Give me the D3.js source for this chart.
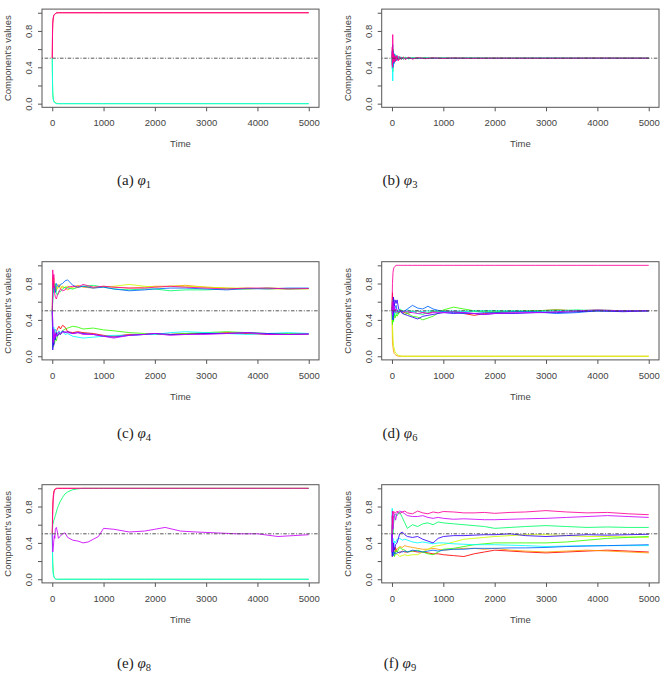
<!DOCTYPE html>
<html>
<head>
<meta charset="utf-8">
<script src="https://cdn.jsdelivr.net/npm/d3@7"></script>
<style>
  body { margin: 0; background: #fff; }
  svg { display: block; }
  .tick text, .lab { font-family: "Liberation Sans", Arial, sans-serif; font-size: 9.5px; fill: #444; }
  .cap { font-family: "Liberation Serif", "DejaVu Serif", serif; font-size: 15px; fill: #222; }
</style>
</head>
<body>
<script>
// R rainbow(10) palette
const rainbow = {
  red: "#FF0000", orange: "#FF9900", yellow: "#CCFF00", green: "#33FF00", green2: "#00FF66",
  cyan: "#00FFFF", blue1: "#0066FF", blue2: "#3300FF", purple: "#CC00FF", magenta: "#FF0099"
};

const xTicks = [0, 1000, 2000, 3000, 4000, 5000];
const yTicks = [0, 0.2, 0.4, 0.6, 0.8, 1.0];
const yTickLabels = ["0.0", "", "0.4", "", "0.8", ""];

// (a) phi_1
const tA = [0, 5, 10, 20, 30, 45, 60, 80, 120, 200, 1000, 5000];
const aRed = [0.5, 0.75, 0.88, 0.94, 0.97, 0.98, 0.99, 1, 1, 1, 1, 1];
const aMagenta = [0.5, 0.82, 0.9, 0.95, 0.97, 0.985, 0.99, 0.995, 1, 1, 1, 1];
const aGreen = [0.5, 0.25, 0.12, 0.05, 0.03, 0.02, 0.01, 0.005, 0, 0, 0, 0];
const aCyan = [0.5, 0.2, 0.1, 0.05, 0.02, 0.01, 0.005, 0, 0, 0, 0, 0];

// (b) phi_3
const tB = [1, 5, 10, 15, 20, 25, 30, 35, 40, 50, 60, 70, 80, 100, 120, 150, 180, 220, 260, 320, 400, 500, 650, 800, 1000, 1200, 1500, 2000, 3000, 4000, 5000];
const bRed = [0.5, 0.42, 0.56, 0.38, 0.58, 0.45, 0.53, 0.45, 0.54, 0.46, 0.52, 0.47, 0.53, 0.48, 0.52, 0.485, 0.51, 0.49, 0.508, 0.495, 0.505, 0.496, 0.503, 0.498, 0.502, 0.499, 0.501, 0.5, 0.5, 0.5, 0.5];
const bOrange = [0.5, 0.55, 0.45, 0.6, 0.42, 0.55, 0.44, 0.53, 0.46, 0.52, 0.47, 0.53, 0.48, 0.515, 0.485, 0.51, 0.49, 0.512, 0.495, 0.508, 0.496, 0.505, 0.497, 0.503, 0.498, 0.501, 0.5, 0.499, 0.5, 0.5, 0.5];
const bGreen = [0.5, 0.45, 0.58, 0.35, 0.6, 0.44, 0.55, 0.46, 0.53, 0.48, 0.54, 0.47, 0.52, 0.485, 0.515, 0.49, 0.51, 0.49, 0.506, 0.494, 0.505, 0.497, 0.503, 0.498, 0.502, 0.499, 0.501, 0.5, 0.5, 0.5, 0.5];
const bCyan = [0.5, 0.38, 0.6, 0.25, 0.55, 0.42, 0.57, 0.45, 0.55, 0.47, 0.54, 0.47, 0.53, 0.48, 0.52, 0.49, 0.515, 0.49, 0.51, 0.492, 0.507, 0.495, 0.505, 0.497, 0.503, 0.498, 0.502, 0.499, 0.501, 0.5, 0.5];
const bBlue = [0.5, 0.58, 0.42, 0.65, 0.4, 0.58, 0.45, 0.55, 0.44, 0.54, 0.47, 0.52, 0.47, 0.52, 0.48, 0.51, 0.488, 0.508, 0.49, 0.505, 0.495, 0.503, 0.496, 0.502, 0.498, 0.501, 0.499, 0.5, 0.5, 0.5, 0.5];
const bMagenta = [0.5, 0.62, 0.4, 0.76, 0.45, 0.56, 0.46, 0.54, 0.47, 0.53, 0.46, 0.52, 0.48, 0.53, 0.47, 0.52, 0.49, 0.51, 0.485, 0.51, 0.49, 0.505, 0.495, 0.503, 0.497, 0.502, 0.498, 0.5, 0.499, 0.501, 0.5];

// (c) phi_4
const tC = [0, 10, 20, 30, 45, 60, 80, 100, 130, 160, 200, 250, 300, 400, 500, 600, 800, 1000, 1200, 1500, 1800, 2000, 2300, 2600, 3000, 3400, 3800, 4200, 4600, 5000];
const cRed = [0.5, 0.2, 0.3, 0.25, 0.28, 0.22, 0.27, 0.3, 0.33, 0.3, 0.34, 0.32, 0.27, 0.26, 0.27, 0.26, 0.25, 0.23, 0.22, 0.24, 0.24, 0.25, 0.24, 0.25, 0.25, 0.26, 0.25, 0.24, 0.24, 0.245];
const cOrange = [0.5, 0.88, 0.8, 0.86, 0.74, 0.78, 0.72, 0.76, 0.79, 0.74, 0.77, 0.75, 0.73, 0.76, 0.78, 0.76, 0.75, 0.77, 0.76, 0.75, 0.76, 0.77, 0.77, 0.78, 0.76, 0.75, 0.74, 0.75, 0.745, 0.745];
const cYellow = [0.5, 0.7, 0.85, 0.78, 0.8, 0.72, 0.77, 0.74, 0.76, 0.78, 0.75, 0.76, 0.77, 0.74, 0.76, 0.77, 0.76, 0.76, 0.77, 0.79, 0.77, 0.76, 0.77, 0.77, 0.76, 0.75, 0.75, 0.74, 0.74, 0.74];
const cGreen = [0.5, 0.15, 0.1, 0.18, 0.14, 0.2, 0.17, 0.22, 0.25, 0.24, 0.28, 0.3, 0.31, 0.33, 0.32, 0.3, 0.31, 0.29, 0.28, 0.26, 0.25, 0.24, 0.24, 0.25, 0.26, 0.27, 0.26, 0.25, 0.25, 0.25];
const cGreen2 = [0.5, 0.6, 0.78, 0.7, 0.76, 0.8, 0.7, 0.67, 0.72, 0.71, 0.74, 0.76, 0.75, 0.74, 0.76, 0.77, 0.78, 0.76, 0.74, 0.73, 0.74, 0.74, 0.72, 0.73, 0.73, 0.74, 0.74, 0.75, 0.74, 0.745];
const cCyan = [0.5, 0.35, 0.2, 0.32, 0.24, 0.3, 0.27, 0.25, 0.28, 0.26, 0.27, 0.24, 0.25, 0.22, 0.21, 0.2, 0.21, 0.22, 0.23, 0.23, 0.24, 0.24, 0.26, 0.27, 0.26, 0.25, 0.24, 0.25, 0.26, 0.25];
const cBlue1 = [0.5, 0.65, 0.8, 0.75, 0.77, 0.7, 0.8, 0.78, 0.76, 0.79, 0.8, 0.83, 0.84, 0.78, 0.76, 0.77, 0.75, 0.76, 0.74, 0.72, 0.73, 0.74, 0.75, 0.75, 0.74, 0.73, 0.745, 0.74, 0.75, 0.75];
const cBlue2 = [0.5, 0.07, 0.2, 0.12, 0.24, 0.18, 0.26, 0.22, 0.25, 0.24, 0.28, 0.26, 0.27, 0.25, 0.26, 0.25, 0.24, 0.22, 0.21, 0.23, 0.24, 0.25, 0.24, 0.24, 0.25, 0.25, 0.26, 0.25, 0.24, 0.245];
const cPurple = [0.5, 0.4, 0.15, 0.3, 0.2, 0.25, 0.22, 0.24, 0.27, 0.25, 0.26, 0.27, 0.26, 0.25, 0.26, 0.24, 0.24, 0.22, 0.2, 0.23, 0.24, 0.25, 0.23, 0.24, 0.24, 0.25, 0.26, 0.24, 0.24, 0.245];
const cMagenta = [0.5, 0.95, 0.75, 0.9, 0.7, 0.65, 0.63, 0.67, 0.7, 0.74, 0.72, 0.73, 0.76, 0.77, 0.76, 0.79, 0.76, 0.77, 0.76, 0.75, 0.75, 0.76, 0.77, 0.76, 0.75, 0.74, 0.75, 0.75, 0.74, 0.745];

// (d) phi_6
const tD = [0, 10, 20, 30, 45, 60, 80, 100, 130, 160, 200, 250, 300, 400, 500, 600, 700, 800, 1000, 1200, 1400, 1600, 1800, 2000, 2400, 2800, 3200, 3600, 4000, 4500, 5000];
const dRed = [0.5, 0.7, 0.55, 0.6, 0.45, 0.52, 0.48, 0.5, 0.47, 0.5, 0.49, 0.48, 0.47, 0.49, 0.5, 0.48, 0.47, 0.49, 0.5, 0.49, 0.47, 0.45, 0.47, 0.48, 0.49, 0.5, 0.51, 0.5, 0.5, 0.5, 0.5];
const dOrange = [0.5, 0.15, 0.1, 0.06, 0.03, 0.02, 0.01, 0.005, 0, 0, 0, 0, 0, 0, 0, 0, 0, 0, 0, 0, 0, 0, 0, 0, 0, 0, 0, 0, 0, 0, 0];
const dYellow = [0.5, 0.35, 0.2, 0.12, 0.08, 0.05, 0.03, 0.02, 0.01, 0.005, 0, 0, 0, 0, 0, 0, 0, 0, 0, 0, 0, 0, 0, 0, 0, 0, 0, 0, 0, 0, 0];
const dGreen = [0.5, 0.35, 0.45, 0.38, 0.48, 0.42, 0.46, 0.44, 0.47, 0.49, 0.48, 0.46, 0.47, 0.44, 0.43, 0.4, 0.42, 0.44, 0.51, 0.54, 0.52, 0.5, 0.49, 0.49, 0.5, 0.5, 0.51, 0.5, 0.51, 0.5, 0.5];
const dGreen2 = [0.5, 0.62, 0.4, 0.55, 0.44, 0.5, 0.47, 0.46, 0.5, 0.52, 0.5, 0.49, 0.48, 0.5, 0.47, 0.46, 0.48, 0.5, 0.5, 0.49, 0.5, 0.49, 0.5, 0.5, 0.49, 0.5, 0.5, 0.51, 0.5, 0.5, 0.5];
const dCyan = [0.5, 0.4, 0.55, 0.45, 0.52, 0.47, 0.5, 0.49, 0.51, 0.5, 0.49, 0.5, 0.51, 0.49, 0.5, 0.49, 0.5, 0.5, 0.49, 0.5, 0.49, 0.5, 0.5, 0.5, 0.5, 0.49, 0.5, 0.5, 0.5, 0.5, 0.5];
const dBlue1 = [0.5, 0.55, 0.45, 0.52, 0.5, 0.53, 0.56, 0.5, 0.48, 0.5, 0.49, 0.5, 0.52, 0.56, 0.53, 0.52, 0.55, 0.52, 0.49, 0.48, 0.47, 0.47, 0.48, 0.48, 0.49, 0.49, 0.47, 0.48, 0.5, 0.5, 0.5];
const dBlue2 = [0.5, 0.6, 0.4, 0.65, 0.55, 0.62, 0.58, 0.62, 0.52, 0.5, 0.47, 0.46, 0.45, 0.43, 0.41, 0.44, 0.45, 0.46, 0.48, 0.47, 0.48, 0.47, 0.46, 0.47, 0.47, 0.48, 0.48, 0.49, 0.5, 0.49, 0.5];
const dPurple = [0.5, 0.45, 0.6, 0.5, 0.55, 0.48, 0.52, 0.5, 0.49, 0.5, 0.48, 0.5, 0.49, 0.48, 0.47, 0.48, 0.47, 0.48, 0.48, 0.49, 0.48, 0.47, 0.46, 0.47, 0.48, 0.48, 0.49, 0.5, 0.51, 0.5, 0.5];
const dMagenta = [0.5, 0.8, 0.92, 0.96, 0.98, 0.99, 1, 1, 1, 1, 1, 1, 1, 1, 1, 1, 1, 1, 1, 1, 1, 1, 1, 1, 1, 1, 1, 1, 1, 1, 1];

// (e) phi_8
const tE = [0, 5, 10, 20, 30, 40, 50, 60, 80, 100, 120, 150, 200, 250, 300, 400, 500, 600, 700, 800, 900, 1000, 1200, 1500, 1800, 2000, 2200, 2500, 2800, 3200, 3600, 4000, 4400, 4700, 5000];
const eRed = [0.5, 0.7, 0.82, 0.92, 0.96, 0.98, 0.99, 0.995, 1, 1, 1, 1, 1, 1, 1, 1, 1, 1, 1, 1, 1, 1, 1, 1, 1, 1, 1, 1, 1, 1, 1, 1, 1, 1, 1];
const eGreen = [0.5, 0.3, 0.18, 0.08, 0.04, 0.02, 0.01, 0.005, 0, 0, 0, 0, 0, 0, 0, 0, 0, 0, 0, 0, 0, 0, 0, 0, 0, 0, 0, 0, 0, 0, 0, 0, 0, 0, 0];
const eGreen2 = [0.5, 0.55, 0.6, 0.62, 0.65, 0.66, 0.68, 0.7, 0.74, 0.78, 0.81, 0.85, 0.9, 0.94, 0.96, 0.985, 0.995, 1, 1, 1, 1, 1, 1, 1, 1, 1, 1, 1, 1, 1, 1, 1, 1, 1, 1];
const eCyan = [0.5, 0.25, 0.12, 0.05, 0.03, 0.02, 0.01, 0.005, 0, 0, 0, 0, 0, 0, 0, 0, 0, 0, 0, 0, 0, 0, 0, 0, 0, 0, 0, 0, 0, 0, 0, 0, 0, 0, 0];
const ePurple = [0.5, 0.4, 0.3, 0.35, 0.42, 0.48, 0.45, 0.55, 0.57, 0.52, 0.45, 0.47, 0.5, 0.51, 0.46, 0.43, 0.42, 0.4, 0.41, 0.44, 0.47, 0.56, 0.55, 0.52, 0.53, 0.55, 0.57, 0.53, 0.52, 0.51, 0.5, 0.5, 0.47, 0.48, 0.49];
const eMagenta = [0.5, 0.6, 0.75, 0.88, 0.94, 0.97, 0.98, 0.99, 0.995, 1, 1, 1, 1, 1, 1, 1, 1, 1, 1, 1, 1, 1, 1, 1, 1, 1, 1, 1, 1, 1, 1, 1, 1, 1, 1];

// (f) phi_9
const tF = [0, 5, 10, 20, 30, 50, 70, 100, 150, 200, 250, 300, 400, 500, 600, 700, 800, 900, 1000, 1200, 1400, 1600, 1800, 2000, 2300, 2600, 3000, 3400, 3800, 4200, 4600, 5000];
const fRed = [0.5, 0.6, 0.25, 0.4, 0.3, 0.28, 0.35, 0.3, 0.29, 0.31, 0.3, 0.3, 0.31, 0.3, 0.3, 0.29, 0.28, 0.28, 0.27, 0.26, 0.25, 0.28, 0.3, 0.32, 0.31, 0.3, 0.29, 0.3, 0.31, 0.32, 0.31, 0.3];
const fOrange = [0.5, 0.35, 0.28, 0.3, 0.32, 0.35, 0.3, 0.33, 0.36, 0.35, 0.37, 0.36, 0.35, 0.34, 0.33, 0.33, 0.34, 0.33, 0.32, 0.33, 0.34, 0.34, 0.33, 0.34, 0.32, 0.31, 0.3, 0.31, 0.32, 0.31, 0.3, 0.29];
const fYellow = [0.5, 0.4, 0.25, 0.3, 0.28, 0.26, 0.27, 0.28, 0.25, 0.26, 0.27, 0.26, 0.27, 0.27, 0.3, 0.33, 0.36, 0.37, 0.38, 0.41, 0.44, 0.45, 0.46, 0.47, 0.48, 0.49, 0.49, 0.48, 0.47, 0.47, 0.465, 0.46];
const fGreen = [0.5, 0.3, 0.35, 0.28, 0.3, 0.25, 0.32, 0.3, 0.35, 0.33, 0.32, 0.3, 0.31, 0.32, 0.3, 0.28, 0.27, 0.3, 0.33, 0.34, 0.36, 0.38, 0.39, 0.4, 0.4, 0.4, 0.4, 0.41, 0.43, 0.45, 0.46, 0.47];
const fGreen2 = [0.5, 0.4, 0.65, 0.5, 0.6, 0.7, 0.72, 0.7, 0.74, 0.68, 0.62, 0.56, 0.6, 0.58, 0.61, 0.62, 0.6, 0.63, 0.62, 0.61, 0.6, 0.59, 0.58, 0.56, 0.57, 0.58, 0.59, 0.58, 0.57, 0.575, 0.57, 0.57];
const fCyan = [0.5, 0.78, 0.3, 0.45, 0.35, 0.42, 0.4, 0.44, 0.45, 0.43, 0.44, 0.43, 0.41, 0.4, 0.41, 0.4, 0.39, 0.4, 0.4, 0.39, 0.385, 0.38, 0.38, 0.38, 0.375, 0.37, 0.36, 0.365, 0.37, 0.37, 0.37, 0.37];
const fBlue1 = [0.5, 0.3, 0.28, 0.35, 0.26, 0.3, 0.28, 0.29, 0.3, 0.3, 0.31, 0.3, 0.32, 0.31, 0.3, 0.31, 0.32, 0.31, 0.32, 0.33, 0.33, 0.34, 0.34, 0.34, 0.345, 0.345, 0.35, 0.36, 0.365, 0.37, 0.375, 0.38];
const fBlue2 = [0.5, 0.25, 0.35, 0.3, 0.4, 0.32, 0.38, 0.4, 0.5, 0.52, 0.49, 0.47, 0.46, 0.47, 0.44, 0.42, 0.4, 0.45, 0.47, 0.48, 0.48, 0.485, 0.49, 0.49, 0.5, 0.48, 0.47, 0.48, 0.49, 0.485, 0.49, 0.495];
const fPurple = [0.5, 0.3, 0.75, 0.55, 0.7, 0.72, 0.65, 0.73, 0.75, 0.74, 0.72, 0.7, 0.69, 0.69, 0.7, 0.68, 0.67, 0.68, 0.67, 0.66, 0.665, 0.66, 0.655, 0.655, 0.66, 0.665, 0.67, 0.68, 0.69, 0.7, 0.69, 0.68];
const fMagenta = [0.5, 0.7, 0.6, 0.75, 0.72, 0.74, 0.73, 0.75, 0.72, 0.74, 0.75, 0.73, 0.72, 0.75, 0.73, 0.72, 0.74, 0.73, 0.745, 0.74, 0.73, 0.73, 0.735, 0.725, 0.735, 0.74, 0.755, 0.74, 0.73, 0.735, 0.72, 0.71];

const panels = [
  { row: 0, col: 0, letter: "a", sub: "1", t: tA, lines: [[aRed, "red"], [aGreen, "green"], [aCyan, "cyan"], [aMagenta, "magenta"]] },
  { row: 0, col: 1, letter: "b", sub: "3", t: tB, lines: [[bRed, "red"], [bOrange, "orange"], [bGreen, "green"], [bCyan, "cyan"], [bBlue, "blue1"], [bMagenta, "magenta"]] },
  { row: 1, col: 0, letter: "c", sub: "4", t: tC, lines: [[cRed, "red"], [cOrange, "orange"], [cYellow, "yellow"], [cGreen, "green"], [cGreen2, "green2"], [cCyan, "cyan"], [cBlue1, "blue1"], [cBlue2, "blue2"], [cPurple, "purple"], [cMagenta, "magenta"]] },
  { row: 1, col: 1, letter: "d", sub: "6", t: tD, lines: [[dRed, "red"], [dOrange, "orange"], [dYellow, "yellow"], [dGreen, "green"], [dGreen2, "green2"], [dCyan, "cyan"], [dBlue1, "blue1"], [dBlue2, "blue2"], [dPurple, "purple"], [dMagenta, "magenta"]] },
  { row: 2, col: 0, letter: "e", sub: "8", t: tE, lines: [[eRed, "red"], [eGreen, "green"], [eGreen2, "green2"], [eCyan, "cyan"], [ePurple, "purple"], [eMagenta, "magenta"]] },
  { row: 2, col: 1, letter: "f", sub: "9", t: tF, lines: [[fRed, "red"], [fOrange, "orange"], [fYellow, "yellow"], [fGreen, "green"], [fGreen2, "green2"], [fCyan, "cyan"], [fBlue1, "blue1"], [fBlue2, "blue2"], [fPurple, "purple"], [fMagenta, "magenta"]] }
];

// layout
const colX = [[42, 319], [381.7, 659]];
const rowShift = [0, 252.6, 475.6];
const capY = [180, 433, 663];
const capX = [134, 400];

const svg = d3.select("body").append("svg").attr("width", 667).attr("height", 673);

panels.forEach((p) => {
  const x = d3.scaleLinear().domain([-200, 5200]).range(colX[p.col]);
  const y = d3.scaleLinear().domain([-0.04, 1.04]).range([107.3 + rowShift[p.row], 9.1 + rowShift[p.row]]);
  const g = svg.append("g");
  const left = x.range()[0], right = x.range()[1];
  const bottom = y.range()[0], top = y.range()[1];

  const line = d3.line()
    .x((d, i) => x(p.t[i]))
    .y((d) => y(d))
    .defined((d, i) => d != null && p.t[i] != null);

  p.lines.forEach(([vals, c]) => {
    g.append("path")
      .attr("d", line(vals))
      .attr("fill", "none")
      .attr("stroke", rainbow[c])
      .attr("stroke-opacity", 0.85)
      .attr("stroke-width", 1)
      .attr("stroke-linejoin", "round");
  });

  // dot-dash reference line at 0.5
  g.append("line")
    .attr("x1", left).attr("x2", right)
    .attr("y1", y(0.5)).attr("y2", y(0.5))
    .attr("stroke", "#444")
    .attr("stroke-width", 0.9)
    .attr("stroke-dasharray", "1,1.6,3.5,1.6");

  g.append("rect")
    .attr("x", left).attr("y", top)
    .attr("width", right - left).attr("height", bottom - top)
    .attr("fill", "none").attr("stroke", "#555").attr("stroke-width", 1);

  const ax = g.append("g")
    .attr("transform", `translate(0,${bottom})`)
    .call(d3.axisBottom(x).tickValues(xTicks).tickFormat(d3.format("d")).tickSize(4).tickSizeOuter(0));
  ax.select(".domain").remove();
  ax.selectAll("line").attr("stroke", "#555");
  ax.selectAll("text").attr("y", 15.7).attr("dy", "0.35em");

  const ay = g.append("g")
    .attr("transform", `translate(${left},0)`)
    .call(d3.axisLeft(y).tickValues(yTicks).tickFormat((d, i) => yTickLabels[i]).tickSize(4).tickSizeOuter(0));
  ay.select(".domain").remove();
  ay.selectAll("line").attr("stroke", "#555");
  ay.selectAll("text")
    .attr("x", 0).attr("dy", "0.35em")
    .attr("text-anchor", "middle")
    .attr("transform", "translate(-13.5,0) rotate(-90)");

  g.append("text").attr("class", "lab")
    .attr("x", x(2500)).attr("y", bottom + 36.7)
    .attr("dy", "0.35em").attr("text-anchor", "middle")
    .text("Time");

  g.append("text").attr("class", "lab")
    .attr("transform", `translate(${left - 34},${y(0.5)}) rotate(-90)`)
    .attr("dy", "0.35em").attr("text-anchor", "middle")
    .text("Component's values");

  const cap = svg.append("text").attr("class", "cap")
    .attr("x", capX[p.col]).attr("y", capY[p.row])
    .attr("dy", "0.35em").attr("text-anchor", "middle");
  cap.append("tspan").text(`(${p.letter}) `);
  cap.append("tspan").attr("font-style", "italic").text("φ");
  cap.append("tspan").attr("font-size", "10.5px").attr("dy", "3").text(p.sub);
});
</script>
</body>
</html>
